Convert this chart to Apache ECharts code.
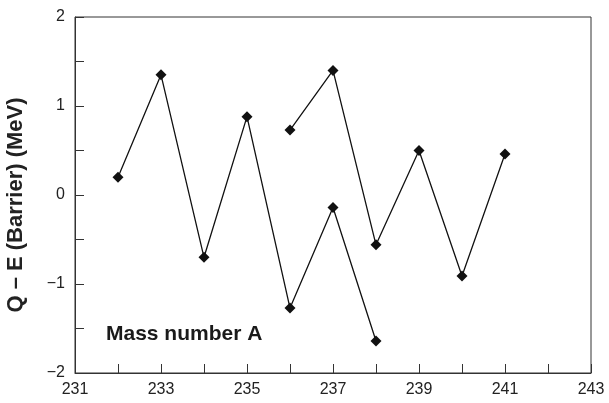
<!DOCTYPE html>
<html><head><meta charset="utf-8">
<script src="https://cdn.jsdelivr.net/npm/echarts@6/dist/echarts.min.js"></script>
<style>html,body{margin:0;padding:0;background:#fff}#c{width:609px;height:403px}</style>
</head><body><div id="c"></div>
<script>
const massA1 = [232, 233, 234, 235, 236, 237, 238];
const valsA1 = [0.2, 1.35, -0.70, 0.88, -1.27, -0.14, -1.64];
const massA2 = [236, 237, 238, 239, 240, 241];
const valsA2 = [0.73, 1.40, -0.56, 0.50, -0.91, 0.46];
const yTitle = 'Q \u2013 E (Barrier) (MeV)';
const innerLabel = 'Mass number A';

const chart = echarts.init(document.getElementById('c'));
const fmtNum = v => (v < 0 ? '\u2212' + Math.abs(v) : String(v));
const lineStyle = {color: '#111', width: 1.3};
const mk = (xs, ys) => ({
  type: 'line', data: xs.map((x, i) => [x, ys[i]]),
  symbol: 'diamond', symbolSize: 11, lineStyle: lineStyle,
  itemStyle: {color: '#111'}, animation: false
});
chart.setOption({
  animation: false,
  grid: {left: 75, top: 17, right: 18, bottom: 30, show: true, borderColor: '#333', borderWidth: 1,
    containLabel: false, outerBoundsMode: 'none'},
  xAxis: {
    type: 'value', min: 231, max: 243, interval: 1,
    axisLine: {onZero: false, lineStyle: {color: '#333', width: 1}},
    axisTick: {inside: true, length: 9, lineStyle: {color: '#333'}},
    splitLine: {show: false},
    axisLabel: {color: '#222', fontSize: 16, fontFamily: 'Liberation Sans', margin: 9,
      formatter: v => (v % 2 === 1 ? String(v) : '')}
  },
  yAxis: {
    type: 'value', min: -2, max: 2, interval: 0.5,
    name: yTitle, nameLocation: 'middle', nameGap: 48, nameRotate: 90,
    nameTextStyle: {color: '#222', fontSize: 22, fontWeight: 'bold', fontFamily: 'Liberation Sans',
      padding: [0, 20, 0, 0]},
    axisLine: {onZero: false, lineStyle: {color: '#333', width: 1}},
    axisTick: {inside: true, length: 9, lineStyle: {color: '#333'}},
    splitLine: {show: false},
    axisLabel: {color: '#222', fontSize: 16, fontFamily: 'Liberation Sans', margin: 10,
      formatter: v => (Number.isInteger(v) ? fmtNum(v) : '')}
  },
  graphic: [{
    type: 'text', x: 106, y: 334,
    style: {text: innerLabel, fill: '#1a1a1a', font: 'bold 21px "Liberation Sans"', verticalAlign: 'middle'}
  }],
  series: [mk(massA1, valsA1), mk(massA2, valsA2)]
});
</script></body></html>
